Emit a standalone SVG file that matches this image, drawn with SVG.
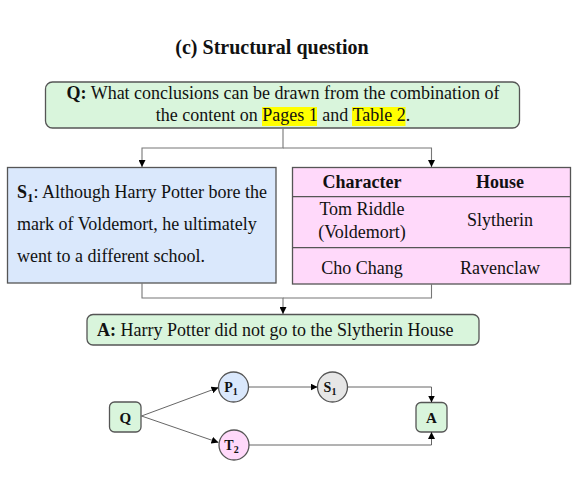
<svg xmlns="http://www.w3.org/2000/svg" width="584" height="484" viewBox="0 0 584 484">
<defs>
<marker id="arr" viewBox="0 0 10 10" refX="10" refY="5" markerWidth="7" markerHeight="7" markerUnits="userSpaceOnUse" orient="auto">
<path d="M0,0 L10,5 L0,10 Z" fill="#000"/>
</marker>
<style>
text{font-family:"Liberation Serif","Times New Roman",serif;fill:#111;}
.t{font-size:18px;}
.b{font-weight:bold;}
.green{fill:#d9f5dc;stroke:#555;stroke-width:1.3;}
.blue{fill:#dae8fc;stroke:#555;stroke-width:1.3;}
.pink{fill:#ffd9fa;stroke:#555;stroke-width:1.3;}
.gray{fill:#e6e6e6;stroke:#555;stroke-width:1.3;}
.con{fill:none;stroke:#777;stroke-width:1.1;}
.con2{fill:none;stroke:#555;stroke-width:0.9;}
.hl{fill:#ffff00;}
</style>
</defs>
<rect width="584" height="484" fill="#fff"/>
<text x="272" y="54" text-anchor="middle" class="b" font-size="20">(c) Structural question</text>

<g id="question">
<rect x="45.5" y="82" width="474" height="46" rx="7" class="green"/>
<rect x="262" y="107" width="55" height="19" class="hl"/>
<rect x="352" y="107" width="53.5" height="19" class="hl"/>
<text x="283" y="99" text-anchor="middle" class="t"><tspan class="b">Q:</tspan> What conclusions can be drawn from the combination of</text>
<text x="283" y="121" text-anchor="middle" class="t">the content on Pages 1 and Table 2.</text>
</g>

<g id="s1box">
<rect x="7.5" y="167.5" width="268.5" height="115.5" class="blue"/>
<text x="17" y="197.5" class="t"><tspan class="b">S</tspan><tspan class="b" font-size="13" dy="4">1</tspan><tspan dy="-4">: Although Harry Potter bore the</tspan></text>
<text x="17" y="230" class="t">mark of Voldemort, he ultimately</text>
<text x="17" y="262" class="t">went to a different school.</text>
</g>

<g id="table">
<rect x="292.5" y="167.5" width="278" height="116.5" class="pink"/>
<line x1="292.5" y1="196.7" x2="570.5" y2="196.7" stroke="#555" stroke-width="1.3"/>
<line x1="292.5" y1="247.7" x2="570.5" y2="247.7" stroke="#555" stroke-width="1.3"/>
<text x="362" y="187.5" text-anchor="middle" class="t b">Character</text>
<text x="500" y="187.5" text-anchor="middle" class="t b">House</text>
<text x="362" y="215" text-anchor="middle" class="t">Tom Riddle</text>
<text x="362" y="237.5" text-anchor="middle" class="t">(Voldemort)</text>
<text x="500" y="225.5" text-anchor="middle" class="t">Slytherin</text>
<text x="362" y="273.5" text-anchor="middle" class="t">Cho Chang</text>
<text x="500" y="273.5" text-anchor="middle" class="t">Ravenclaw</text>
</g>

<g id="answer">
<rect x="87" y="314.5" width="392" height="30.5" rx="6" class="green"/>
<text x="97" y="336" class="t"><tspan class="b">A:</tspan> Harry Potter did not go to the Slytherin House</text>
</g>

<g id="g-q">
<rect x="109.5" y="402" width="31.5" height="30" rx="5" class="green"/>
<text x="125.3" y="422.5" text-anchor="middle" class="b" font-size="15">Q</text>
</g>
<g id="g-p1">
<circle cx="233.5" cy="387" r="15" class="blue"/>
<text x="231" y="391.5" text-anchor="middle" class="b" font-size="14">P<tspan font-size="10" dy="3">1</tspan></text>
</g>
<g id="g-s1">
<circle cx="332.5" cy="387" r="15" class="gray"/>
<text x="330" y="391.5" text-anchor="middle" class="b" font-size="14">S<tspan font-size="10" dy="3">1</tspan></text>
</g>
<g id="g-t2">
<circle cx="234" cy="445" r="15" class="pink"/>
<text x="231.5" y="449.5" text-anchor="middle" class="b" font-size="14">T<tspan font-size="10" dy="3">2</tspan></text>
</g>
<g id="g-a">
<rect x="416" y="402.5" width="31" height="29.5" rx="5" class="green"/>
<text x="431.5" y="422.5" text-anchor="middle" class="b" font-size="15">A</text>
</g>

<g id="connectors">
<path d="M283,128 V148 H142 V167" class="con" marker-end="url(#arr)"/>
<path d="M283,148 H431.5 V167" class="con" marker-end="url(#arr)"/>
<path d="M142,283 V298 H283 V314" class="con" marker-end="url(#arr)"/>
<path d="M431.5,284 V298 H283" class="con"/>
<path d="M141.5,416 L218.5,387.5" class="con2" marker-end="url(#arr)"/>
<path d="M141.5,416 L218.5,442.5" class="con2" marker-end="url(#arr)"/>
<path d="M248.5,387 H317.5" class="con2" marker-end="url(#arr)"/>
<path d="M347.5,387 H431.5 V402.5" class="con2" marker-end="url(#arr)"/>
<path d="M249,445 H431.5 V432" class="con2" marker-end="url(#arr)"/>
</g>
</svg>
